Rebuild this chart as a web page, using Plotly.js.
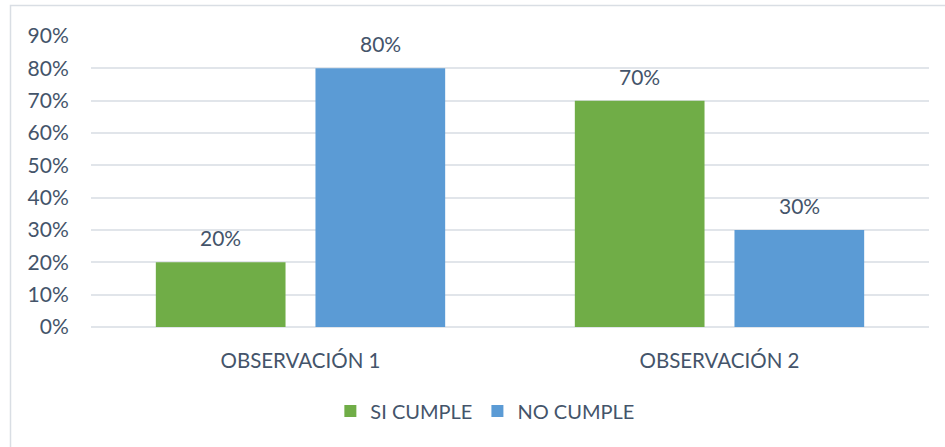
<!DOCTYPE html>
<html>
<head>
<meta charset="utf-8">
<script src="https://cdn.plot.ly/plotly-3.0.1.min.js"></script>
<style>
  html, body { margin: 0; padding: 0; background: #ffffff; }
  #chart { width: 945px; height: 447px; }
</style>
</head>
<body>
<div id="chart"></div>
<script>
const categories = ["OBSERVACIÓN 1", "OBSERVACIÓN 2"];
const seriesNames = ["SI CUMPLE", "NO CUMPLE"];
const siCumple = [0.20, 0.70];
const noCumple = [0.80, 0.30];
const yTickValues = [0, 0.1, 0.2, 0.3, 0.4, 0.5, 0.6, 0.7, 0.8, 0.9];

const textColor = "#44546A";
const fontFamily = "Lato, 'Open Sans', sans-serif";

const traces = [
  { type: "bar", name: seriesNames[0], x: categories, y: siCumple,
    marker: { color: "#70AD47" }, hoverinfo: "none" },
  { type: "bar", name: seriesNames[1], x: categories, y: noCumple,
    marker: { color: "#5B9BD5" }, hoverinfo: "none" }
];

const offsets = [-80, 80];
const annotations = [];
[siCumple, noCumple].forEach((vals, si) => {
  vals.forEach((v, ci) => {
    annotations.push({
      x: categories[ci], y: v, xref: "x", yref: "y",
      text: Math.round(v * 100) + "%",
      showarrow: false, yanchor: "bottom", xshift: offsets[si], yshift: 10,
      font: { family: fontFamily, size: 21, color: textColor }
    });
  });
});

const layout = {
  width: 945, height: 447,
  margin: { l: 91, r: 16, t: 36, b: 120 },
  paper_bgcolor: "#ffffff", plot_bgcolor: "#ffffff",
  barmode: "group", bargap: 0.238, bargroupgap: 0.1875,
  font: { family: fontFamily, color: textColor, size: 20 },
  showlegend: true,
  legend: { orientation: "h", x: 0.470, xanchor: "center", y: -0.289, yanchor: "middle",
            font: { family: fontFamily, size: 20, color: textColor },
            itemwidth: 30, traceorder: "normal" },
  xaxis: {
    type: "category", showgrid: false, zeroline: false, showline: false,
    ticks: "outside", ticklen: 15, tickcolor: "rgba(0,0,0,0)",
    tickfont: { family: fontFamily, size: 20.5, color: textColor }, fixedrange: true
  },
  yaxis: {
    range: [0, 0.9], tickvals: yTickValues, tickformat: ".0%",
    showgrid: true, gridcolor: "#E1E5EA", gridwidth: 2,
    zeroline: true, zerolinecolor: "#E1E5EA", zerolinewidth: 2,
    showline: false, ticks: "outside", ticklen: 17, tickcolor: "rgba(0,0,0,0)",
    tickfont: { family: fontFamily, size: 21, color: textColor }, fixedrange: true
  },
  annotations: annotations,
  shapes: [{
    type: "rect", xref: "paper", yref: "paper",
    x0: (10.5 - 91) / 838, x1: 1.05, y0: -0.5, y1: 1 + (30.5 / 291),
    line: { color: "#D9DEE4", width: 1.5 }, fillcolor: "rgba(0,0,0,0)", layer: "below"
  }]
};

Plotly.newPlot("chart", traces, layout, { displayModeBar: false, staticPlot: true });
</script>
</body>
</html>
